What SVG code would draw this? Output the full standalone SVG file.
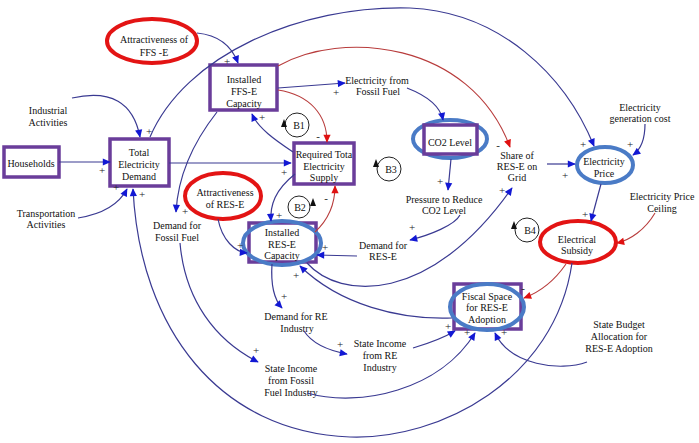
<svg xmlns="http://www.w3.org/2000/svg" width="699" height="443" viewBox="0 0 699 443" font-family="Liberation Serif, serif">
<defs>
<style>
text{font-family:'Liberation Serif',serif;font-size:10px;fill:#111;text-anchor:middle}
.box{fill:#fff;stroke:#6a3d9a;stroke-width:3.5}
.rell{fill:#fff;stroke:#e31414;stroke-width:4}
.bell{fill:none;stroke:#4a7bc6;stroke-width:4}
.bellf{fill:#fff;stroke:#4a7bc6;stroke-width:4}
.c{fill:none;stroke:#3a3a92;stroke-width:1.2;marker-end:url(#ab)}
.r{fill:none;stroke:#b83c3c;stroke-width:1.1;marker-end:url(#ar)}
.pol{font-size:11px;fill:#222}
.loop{fill:none;stroke:#222;stroke-width:1}
</style>
<marker id="ab" viewBox="0 0 10 10" refX="9" refY="5" markerWidth="9" markerHeight="8" markerUnits="userSpaceOnUse" orient="auto"><path d="M0,0.5 L10,5 L0,9.5 z" fill="#1218d4"/></marker>
<marker id="ar" viewBox="0 0 10 10" refX="9" refY="5" markerWidth="9" markerHeight="8" markerUnits="userSpaceOnUse" orient="auto"><path d="M0,0.5 L10,5 L0,9.5 z" fill="#e01010"/></marker>
</defs>
<rect width="699" height="443" fill="#fff"/>

<g id="attr-ffs"><ellipse class="rell" cx="152" cy="41" rx="45" ry="22"/><text x="154" y="43">Attractiveness of</text><text x="154" y="56">FFS -E</text></g>
<g id="installed-ffs"><rect class="box" x="210" y="65" width="67" height="45"/><text x="244" y="82.5">Installed</text><text x="244" y="94.5">FFS-E</text><text x="244" y="106.5">Capacity</text></g>
<g id="industrial"><text x="48" y="113.5">Industrial</text><text x="48" y="126">Activities</text></g>
<g id="households"><rect class="box" x="4" y="147" width="55" height="30"/><text x="31" y="166.5">Households</text></g>
<g id="ted"><rect class="box" x="110" y="139" width="59" height="47"/><text x="139" y="155.5">Total</text><text x="139" y="167.5">Electricity</text><text x="139" y="179.5">Demand</text></g>
<g id="transport"><text x="46" y="216.5">Transportation</text><text x="46" y="228">Activities</text></g>
<g id="demand-ff"><text x="177" y="228.5">Demand for</text><text x="177" y="240.5">Fossil Fuel</text></g>
<g id="attr-res"><ellipse class="rell" cx="223" cy="196" rx="38" ry="23"/><text x="225" y="196">Attractiveness</text><text x="225" y="207.5">of RES-E</text></g>
<g id="req-supply"><rect class="box" x="294" y="143" width="60" height="41"/><text x="324" y="157.5">Required Tota</text><text x="324" y="169.5">Electricity</text><text x="324" y="180.5">Supply</text></g>
<g id="elec-ff"><text x="377" y="83.5">Electricity from</text><text x="378" y="94.5">Fossil Fuel</text></g>
<g id="co2"><ellipse class="bellf" cx="450" cy="139" rx="37" ry="19"/><rect class="box" x="424" y="125" width="53" height="29"/><text x="450" y="145.5">CO2 Level</text></g>
<g id="share"><text x="517" y="158.5">Share of</text><text x="517" y="169.5">RES-E on</text><text x="517" y="180.5">Grid</text></g>
<g id="price"><ellipse class="bellf" cx="605" cy="165" rx="28" ry="18"/><text x="604" y="164.5">Electricity</text><text x="604" y="176.5">Price</text></g>
<g id="gencost"><text x="640" y="110.5">Electricity</text><text x="640" y="121.5">generation cost</text></g>
<g id="ceiling"><text x="662" y="199.5">Electricity Price</text><text x="662" y="211.5">Ceiling</text></g>
<g id="subsidy"><ellipse class="rell" cx="578" cy="242" rx="38" ry="21"/><text x="577" y="242.5">Electrical</text><text x="577" y="253.5">Subsidy</text></g>
<g id="pressure"><text x="444" y="202.5">Pressure to Reduce</text><text x="444" y="213.5">CO2 Level</text></g>
<g id="demand-res"><text x="383" y="248.5">Demand for</text><text x="383" y="259.5">RES-E</text></g>
<g id="installed-res"><rect class="box" x="249" y="223" width="67" height="39"/><ellipse class="bell" cx="282" cy="243" rx="39" ry="22"/><text x="282" y="235.5">Installed</text><text x="282" y="247.5">RES-E</text><text x="282" y="259">Capacity</text></g>
<g id="demand-re-ind"><text x="296" y="319.5">Demand for RE</text><text x="297" y="331.5">Industry</text></g>
<g id="income-re"><text x="380" y="346.5">State Income</text><text x="380" y="358.5">from RE</text><text x="380" y="370.5">Industry</text></g>
<g id="income-ff"><text x="291" y="371.5">State Income</text><text x="291" y="383.5">from Fossil</text><text x="291" y="395.5">Fuel Industry</text></g>
<g id="fiscal"><rect class="box" x="454" y="284" width="67" height="45"/><ellipse class="bell" cx="487" cy="307" rx="37" ry="23"/><text x="487" y="299.5">Fiscal Space</text><text x="487" y="310.5">for RES-E</text><text x="487" y="322.5">Adoption</text></g>
<g id="budget"><text x="619" y="327.5">State Budget</text><text x="619" y="339.5">Allocation for</text><text x="619" y="351.5">RES-E Adoption</text></g>

<g id="loops">
<circle class="loop" cx="297" cy="125" r="12"/><polygon points="281,127 284,119 287,127" fill="#111"/><text x="299" y="129">B1</text>
<circle class="loop" cx="299" cy="207" r="11"/><polygon points="310,206 313,198 316,206" fill="#111"/><text x="300" y="211">B2</text>
<circle class="loop" cx="389" cy="169" r="12"/><polygon points="373,167 376,159 379,167" fill="#111"/><text x="391" y="173">B3</text>
<circle class="loop" cx="527" cy="230" r="12"/><polygon points="511,229 514,221 517,229" fill="#111"/><text x="530" y="234">B4</text>
</g>

<g id="connectors">
<path class="c" d="M197,33 Q228,36 238,63"/>
<path class="c" d="M72,98 Q130,85 140,137"/>
<path class="c" d="M150,137 C185,55 300,5 410,8 C500,12 565,75 594,146"/>
<path class="c" d="M59,162 L110,162"/>
<path class="c" d="M78,218 Q115,212 127,189"/>
<path class="c" d="M572,263 C555,380 440,440 350,437 C220,432 140,330 133,189"/>
<path class="c" d="M217,112 C195,140 178,175 176,212"/>
<path class="c" d="M180,243 C185,300 215,340 258,362"/>
<path class="c" d="M307,393 C360,408 440,390 475,333"/>
<path class="c" d="M413,348 Q440,340 455,331"/>
<path class="c" d="M587,362 C560,372 510,365 495,333"/>
<path class="c" d="M304,331 Q315,348 347,354"/>
<path class="c" d="M272,264 Q270,295 282,308"/>
<path class="c" d="M452,318 C400,320 340,305 300,266"/>
<path class="c" d="M307,263 C340,300 430,305 512,188"/>
<path class="c" d="M218,219 C222,240 235,252 247,253"/>
<path class="r" d="M278,90 C310,95 327,115 327,142"/>
<path class="c" d="M293,152 C275,140 258,128 252,114"/>
<path class="c" d="M278,88 L345,83"/>
<path class="r" d="M278,66 C340,30 470,40 510,147"/>
<path class="c" d="M407,88 C425,95 440,105 443,120"/>
<path class="c" d="M451,159 L448,190"/>
<path class="c" d="M460,215 C455,225 430,235 410,240"/>
<path class="c" d="M357,256 L317,255"/>
<path class="r" d="M315,232 C328,220 335,205 335,186"/>
<path class="c" d="M295,174 C275,190 270,205 271,221"/>
<path class="c" d="M169,163 L291,163"/>
<path class="c" d="M547,164 L575,164"/>
<path class="c" d="M645,124 C645,140 640,150 633,155"/>
<path class="c" d="M601,184 L591,221"/>
<path class="r" d="M655,213 C645,230 630,240 617,243"/>
<path class="r" d="M566,264 C555,280 540,292 524,298"/>
<g id="polarities">
<text class="pol" x="227" y="65">+</text>
<text class="pol" x="149" y="135">+</text>
<text class="pol" x="583" y="148">+</text>
<text class="pol" x="102" y="174">+</text>
<text class="pol" x="116" y="191">+</text>
<text class="pol" x="142" y="198">+</text>
<text class="pol" x="185" y="215">+</text>
<text class="pol" x="256" y="354">+</text>
<text class="pol" x="467" y="336">+</text>
<text class="pol" x="448" y="330">+</text>
<text class="pol" x="504" y="336">+</text>
<text class="pol" x="340" y="348">+</text>
<text class="pol" x="284" y="300">+</text>
<text class="pol" x="296" y="279">+</text>
<text class="pol" x="502" y="194">+</text>
<text class="pol" x="240" y="249">+</text>
<text class="pol" x="318" y="140">-</text>
<text class="pol" x="262" y="121">+</text>
<text class="pol" x="336" y="96">+</text>
<text class="pol" x="498" y="149">-</text>
<text class="pol" x="440" y="185">+</text>
<text class="pol" x="412" y="231">+</text>
<text class="pol" x="325" y="251">+</text>
<text class="pol" x="326" y="202">-</text>
<text class="pol" x="279" y="219">+</text>
<text class="pol" x="284" y="176">+</text>
<text class="pol" x="565" y="179">+</text>
<text class="pol" x="630" y="148">+</text>
<text class="pol" x="585" y="218">+</text>
<text class="pol" x="523" y="292">-</text>
</g>
</g>
</svg>
